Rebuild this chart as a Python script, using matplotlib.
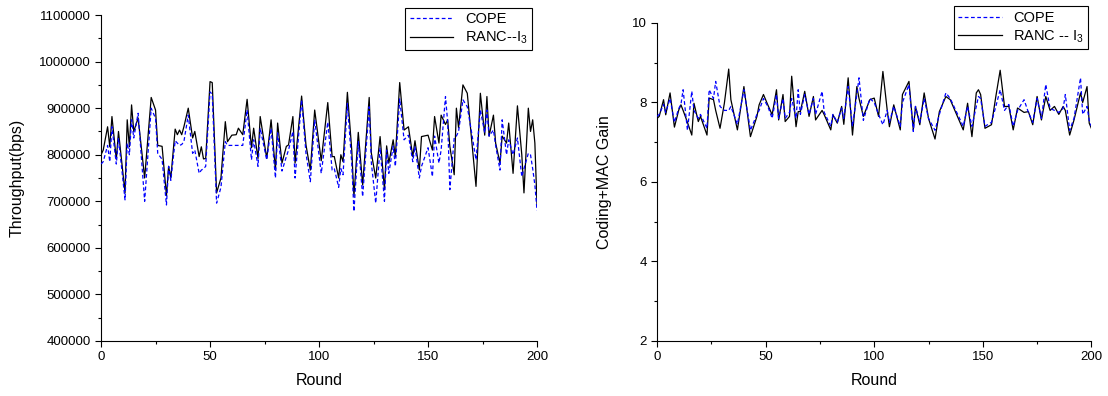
import matplotlib.pyplot as plt
from matplotlib.ticker import MultipleLocator, FormatStrFormatter

plt.rcParams['font.family'] = ['Liberation Sans', 'DejaVu Sans']
plt.rcParams['mathtext.fontset'] = 'custom'
plt.rcParams['mathtext.rm'] = 'Liberation Sans'
plt.rcParams['mathtext.it'] = 'Liberation Sans'

# ---------------- Throughput (left) ----------------
tp_round = [0, 1, 3, 4, 5, 7, 8, 11, 12, 13, 14, 15, 17, 20, 23, 25, 26, 28, 30, 31,
            32, 34, 35, 36, 37, 38, 40, 42, 43, 45, 46, 47, 48, 50, 51, 53, 55, 57, 58, 60,
            62, 63, 65, 67, 69, 70, 72, 73, 76, 78, 80, 81, 83, 85, 86, 88, 89, 92, 94, 96,
            98, 101, 104, 106, 107, 109, 110, 111, 113, 115, 116, 118, 120, 123, 124, 126, 128, 130, 131, 132,
            134, 135, 137, 139, 141, 143, 144, 146, 147, 150, 152, 153, 155, 156, 158, 159, 160, 162, 163, 164,
            166, 168, 170, 172, 174, 176, 177, 178, 180, 181, 183, 184, 186, 187, 189, 191, 193, 194, 196, 197,
            198, 199, 200]
tp_ranc = [800, 810, 860, 817, 882, 790, 850, 718, 875, 817, 907, 850, 879, 750, 923, 896, 820, 818, 712, 775,
           750, 855, 843, 853, 843, 860, 900, 836, 850, 796, 817, 791, 792, 957, 955, 718, 750, 871, 828, 842,
           843, 857, 843, 919, 815, 857, 792, 882, 792, 875, 767, 868, 782, 818, 821, 882, 782, 926, 821, 767,
           896, 787, 912, 796, 796, 750, 800, 785, 934, 810, 710, 848, 735, 923, 803, 750, 839, 725, 819, 782,
           832, 795, 955, 853, 860, 796, 830, 767, 839, 842, 810, 882, 825, 885, 865, 875, 818, 757, 900, 858,
           950, 932, 832, 732, 932, 842, 925, 840, 885, 825, 782, 840, 825, 868, 760, 905, 800, 718, 900, 850,
           875, 825, 690]
tp_cope = [780, 785, 820, 785, 860, 780, 836, 703, 825, 800, 875, 836, 889, 700, 900, 878, 803, 790, 692, 775,
           745, 830, 825, 820, 822, 828, 885, 803, 810, 760, 767, 770, 775, 935, 930, 696, 730, 828, 820, 820,
           820, 820, 820, 896, 789, 832, 775, 857, 789, 857, 750, 847, 765, 796, 810, 850, 750, 918, 803, 742,
           875, 760, 870, 767, 770, 730, 770, 757, 910, 782, 678, 828, 710, 903, 782, 696, 815, 700, 810, 760,
           818, 775, 920, 832, 842, 785, 818, 750, 775, 815, 753, 840, 782, 810, 925, 870, 725, 836, 840, 850,
           918, 903, 847, 789, 896, 847, 896, 840, 853, 820, 767, 875, 800, 832, 800, 836, 753, 770, 803, 800,
           770, 735, 680]

# ---------------- Coding+MAC gain (right) ----------------
gain_round = [0, 1, 3, 4, 6, 8, 10, 11, 12, 14, 16, 17, 19, 20, 23, 24, 26, 27, 29, 31,
              33, 34, 37, 40, 43, 46, 47, 49, 51, 53, 55, 56, 58, 59, 61, 62, 64, 65, 66, 68,
              70, 72, 73, 76, 77, 80, 81, 83, 85, 86, 88, 90, 92, 93, 95, 98, 100, 102, 104, 106,
              107, 109, 112, 113, 116, 118, 119, 121, 123, 125, 128, 130, 133, 135, 138, 141, 143, 145, 147, 148,
              149, 151, 154, 156, 158, 160, 162, 164, 166, 169, 171, 173, 175, 177, 179, 181, 183, 185, 187, 188,
              190, 192, 195, 196, 198, 199, 200]
gain_ranc = [7.60, 7.65, 8.07, 7.69, 8.24, 7.38, 7.81, 7.94, 7.80, 7.50, 7.18, 7.98, 7.52, 7.65, 7.18, 8.11, 8.07, 7.80, 7.35, 7.98,
             8.84, 8.07, 7.31, 8.40, 7.14, 7.65, 7.94, 8.20, 7.94, 7.69, 8.32, 7.56, 8.20, 7.52, 7.65, 8.66, 7.39, 7.77, 7.77, 8.28,
             7.65, 8.15, 7.56, 7.80, 7.69, 7.31, 7.69, 7.48, 7.90, 7.45, 8.62, 7.18, 8.40, 8.10, 7.65, 8.07, 8.11, 7.65, 8.78, 7.80,
             7.39, 7.94, 7.31, 8.20, 8.53, 7.31, 7.90, 7.44, 8.24, 7.60, 7.08, 7.77, 8.15, 8.07, 7.69, 7.31, 7.98, 7.14, 8.24, 8.32,
             8.20, 7.35, 7.44, 8.15, 8.81, 7.90, 7.90, 7.31, 7.86, 7.75, 7.77, 7.44, 8.15, 7.56, 8.15, 7.80, 7.90, 7.70, 7.90, 7.80,
             7.18, 7.56, 8.24, 8.00, 8.40, 7.48, 7.35]
gain_cope = [7.65, 7.70, 7.95, 7.75, 8.10, 7.50, 7.85, 7.95, 8.32, 7.30, 8.28, 7.80, 7.60, 7.70, 7.35, 8.32, 8.10, 8.53, 7.90, 7.80,
             7.80, 7.90, 7.45, 8.32, 7.30, 7.70, 7.80, 8.10, 7.90, 7.60, 8.20, 7.60, 8.10, 7.60, 7.75, 8.10, 7.60, 8.32, 7.70, 8.20,
             7.70, 8.10, 7.70, 8.28, 7.75, 7.40, 7.70, 7.50, 7.86, 7.60, 8.40, 7.40, 8.20, 8.62, 7.55, 8.10, 8.00, 7.70, 7.44, 7.80,
             7.50, 7.90, 7.40, 8.00, 8.45, 7.27, 7.90, 7.50, 8.10, 7.60, 7.30, 7.70, 8.24, 8.10, 7.75, 7.40, 7.90, 7.40, 7.90, 8.15,
             8.10, 7.40, 7.50, 7.90, 8.32, 7.80, 7.95, 7.40, 7.80, 8.07, 7.75, 7.50, 8.10, 7.60, 8.45, 7.85, 7.80, 7.75, 7.85, 8.20,
             7.30, 7.60, 8.62, 7.70, 7.90, 7.55, 7.40]

fig = plt.figure(figsize=(11.08, 3.96), dpi=100)
ax1 = fig.add_axes([0.0912, 0.139, 0.3935, 0.823])
ax2 = fig.add_axes([0.593, 0.139, 0.392, 0.803])


def style_axis(ax):
    ax.spines['top'].set_visible(False)
    ax.spines['right'].set_visible(False)
    ax.tick_params(which='major', direction='out', length=4, width=0.8, labelsize=9.5)
    ax.tick_params(which='minor', direction='out', length=2.5, width=0.8)
    ax.set_xlim(0, 200)
    ax.xaxis.set_major_locator(MultipleLocator(50))
    ax.xaxis.set_minor_locator(MultipleLocator(25))
    ax.set_xlabel('Round', fontsize=11.5, labelpad=7)


# left panel
ax1.plot(tp_round, [v * 1000 for v in tp_ranc], color='black', lw=0.9, label='RANC--I$_3$', zorder=2)
ax1.plot(tp_round, [v * 1000 for v in tp_cope], color='blue', lw=0.9, ls=(0, (3, 2)), label='COPE', zorder=3)
ax1.set_ylim(400000, 1100000)
ax1.yaxis.set_major_locator(MultipleLocator(100000))
ax1.yaxis.set_minor_locator(MultipleLocator(50000))
ax1.yaxis.set_major_formatter(FormatStrFormatter('%d'))
ax1.set_ylabel('Throughput(bps)', fontsize=11.5, labelpad=10)
style_axis(ax1)
h, l = ax1.get_legend_handles_labels()
leg1 = ax1.legend(h[::-1], l[::-1], loc='upper right', bbox_to_anchor=(1.005, 1.045), fontsize=10.5,
                  fancybox=False, edgecolor='black', framealpha=1, handlelength=3,
                  borderpad=0.3, labelspacing=0.25)
leg1.get_frame().set_linewidth(0.8)

# right panel
ax2.plot(gain_round, gain_ranc, color='black', lw=0.9, label='RANC -- I$_3$', zorder=2)
ax2.plot(gain_round, gain_cope, color='blue', lw=0.9, ls=(0, (3, 2)), label='COPE', zorder=3)
ax2.set_ylim(2, 10)
ax2.yaxis.set_major_locator(MultipleLocator(2))
ax2.yaxis.set_minor_locator(MultipleLocator(1))
ax2.set_ylabel('Coding+MAC Gain', fontsize=11.5, labelpad=14)
style_axis(ax2)
h, l = ax2.get_legend_handles_labels()
leg2 = ax2.legend(h[::-1], l[::-1], loc='upper right', bbox_to_anchor=(1.01, 1.075), fontsize=10.5,
                  fancybox=False, edgecolor='black', framealpha=1, handlelength=3,
                  borderpad=0.3, labelspacing=0.25)
leg2.get_frame().set_linewidth(0.8)

fig.savefig('out.png', dpi=100)
